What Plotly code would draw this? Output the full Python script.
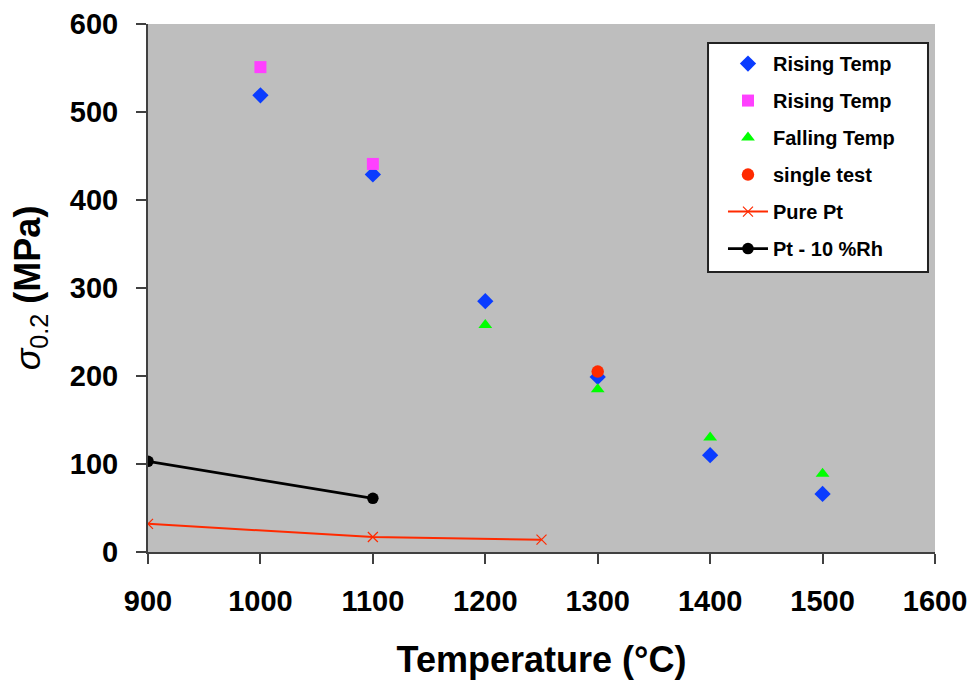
import plotly.graph_objects as go

# Yield strength (0.2% proof stress) versus temperature
rise_diamond_t = [1000, 1100, 1200, 1300, 1400, 1500]
rise_diamond_s = [519, 429, 285, 199, 110, 66]

rise_square_t = [1000, 1100]
rise_square_s = [551, 441]

fall_t = [1200, 1300, 1400, 1500]
fall_s = [258, 185, 130, 89]

single_t = [1300]
single_s = [205]

pure_pt_t = [900, 1100, 1250]
pure_pt_s = [32, 17, 14]

pt_rh_t = [900, 1100]
pt_rh_s = [103, 61]

x_ticks = [900, 1000, 1100, 1200, 1300, 1400, 1500, 1600]
y_ticks = [0, 100, 200, 300, 400, 500, 600]

FONT = "Arial, Liberation Sans, sans-serif"
AXIS_COLOR = "#404040"

fig = go.Figure()
fig.add_trace(go.Scatter(x=rise_diamond_t, y=rise_diamond_s, mode="markers", name="Rising Temp",
                         legendgroup="a",
                         marker=dict(symbol="diamond", size=12.5, color="#0A3CFF")))
fig.add_trace(go.Scatter(x=rise_square_t, y=rise_square_s, mode="markers", name="Rising Temp",
                         legendgroup="b",
                         marker=dict(symbol="square", size=12, color="#FF40FF")))
fig.add_trace(go.Scatter(x=fall_t, y=fall_s, mode="markers", name="Falling Temp",
                         legendgroup="c",
                         marker=dict(symbol="triangle-up", size=12, color="#00FF00")))
fig.add_trace(go.Scatter(x=single_t, y=single_s, mode="markers", name="single test",
                         legendgroup="d",
                         marker=dict(symbol="circle", size=12.5, color="#FF2A00")))
fig.add_trace(go.Scatter(x=pure_pt_t, y=pure_pt_s, mode="lines+markers", name="Pure Pt",
                         legendgroup="e",
                         line=dict(color="#FF2A00", width=2),
                         marker=dict(symbol="x-thin", size=10, color="#FF2A00",
                                     line=dict(color="#FF2A00", width=1.2))))
fig.add_trace(go.Scatter(x=pt_rh_t, y=pt_rh_s, mode="lines+markers", name="Pt - 10 %Rh",
                         legendgroup="f",
                         line=dict(color="black", width=2.7),
                         marker=dict(symbol="circle", size=11.5, color="black")))

# White framed box behind the legend entries
fig.add_shape(type="rect", xref="paper", yref="paper",
              x0=0.7116, x1=0.9911, y0=0.5303, y1=0.964,
              fillcolor="white", line=dict(color="#222222", width=2), layer="above")

fig.update_layout(
    width=977, height=684,
    margin=dict(l=148, r=42, t=24, b=132, autoexpand=False),
    paper_bgcolor="white",
    plot_bgcolor="#BEBEBE",
    font=dict(family=FONT, color="black"),
    legend=dict(
        x=0.7306, y=0.962, xanchor="left", yanchor="top",
        bgcolor="rgba(0,0,0,0)", borderwidth=0,
        font=dict(family=FONT, size=20, color="black", weight="bold"),
        tracegroupgap=8, itemwidth=40,
    ),
    xaxis=dict(
        range=[900, 1600], tickvals=x_ticks, ticktext=[str(v) for v in x_ticks],
        showgrid=False, zeroline=False, showline=True, linecolor=AXIS_COLOR, linewidth=2,
        ticks="outside", ticklen=10, tickcolor=AXIS_COLOR, tickwidth=2,
        ticklabelstandoff=12, automargin=False,
        tickfont=dict(family=FONT, size=29, weight="bold"),
        title=dict(text="Temperature (°C)", font=dict(family=FONT, size=36, weight="bold"), standoff=31),
    ),
    yaxis=dict(
        range=[0, 600], tickvals=y_ticks, ticktext=[str(v) for v in y_ticks],
        showgrid=False, zeroline=False, showline=True, linecolor=AXIS_COLOR, linewidth=2,
        ticks="outside", ticklen=10, tickcolor=AXIS_COLOR, tickwidth=2,
        ticklabelstandoff=12, automargin=False,
        tickfont=dict(family=FONT, size=29, weight="bold"),
        title=dict(text="<i>σ</i><sub>0.2</sub> <b>(MPa)</b>", font=dict(family=FONT, size=36), standoff=18),
    ),
)

fig.write_html("out.html")
